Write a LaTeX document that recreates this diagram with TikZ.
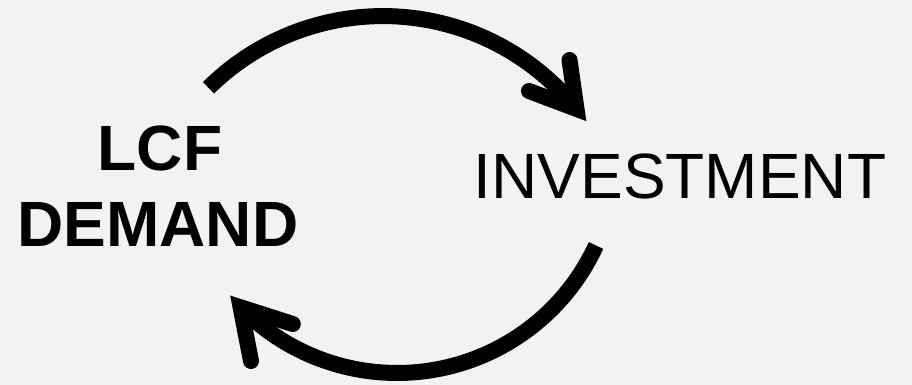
\documentclass[tikz,border=0pt]{standalone}
\usepackage{fontspec}
\setmainfont{Liberation Sans}
\definecolor{bg}{HTML}{F2F2F2}
\begin{document}
\begin{tikzpicture}[x=1pt,y=1pt,
  loopline/.style={line width=16pt, draw=black, line cap=butt},
  headline/.style={line width=16pt, draw=black, line cap=round, line join=miter, miter limit=10},
  bigtext/.style={anchor=base, inner sep=0pt, font=\fontsize{64}{64}\selectfont},
  boldtext/.style={bigtext, font=\bfseries\fontsize{64}{64}\selectfont}]
\fill[bg] (0,0) rectangle (912,385);
\useasboundingbox (0,0) rectangle (912,385);
\node[boldtext] (lcf) at (160,214) {LCF};
\node[boldtext] (demand) at (158,138) {DEMAND};
\node[bigtext] (inv) at (680,186) {INVESTMENT};
% top loop arrow
\coordinate (t1s) at (208.5,297.2);
\coordinate (t1e) at (576.5,276.1);
\coordinate (t1a) at (569.5,325);
\coordinate (t1b) at (529,294);
\draw[loopline] (t1s) arc[start angle=134.7, end angle=38.7, radius=248];
\draw[headline] (t1a) -- (t1e) -- (t1b);
% bottom loop arrow
\coordinate (t2s) at (596,139.5);
\coordinate (t2e) at (240.6,77.7);
\coordinate (t2a) at (292.8,61);
\coordinate (t2b) at (251,24);
\draw[loopline] (t2s) arc[start angle=-24.7, end angle=-135.6, radius=219];
\draw[headline] (t2a) -- (t2e) -- (t2b);
\end{tikzpicture}
\end{document}
